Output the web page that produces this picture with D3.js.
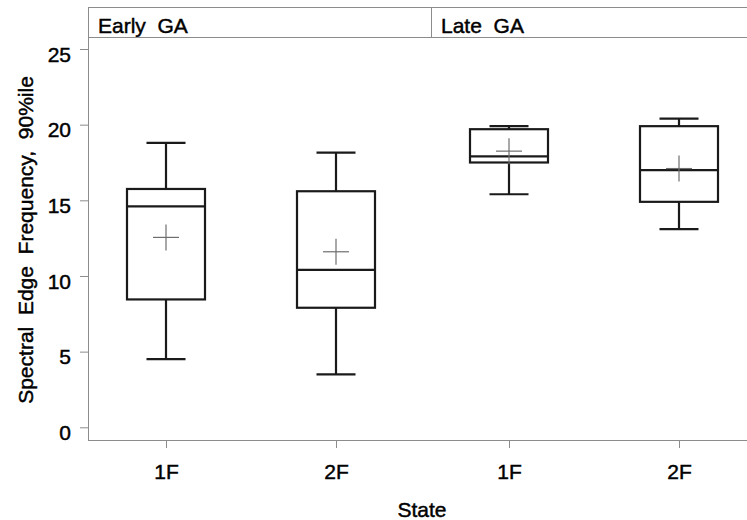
<!DOCTYPE html>
<html>
<head>
<meta charset="utf-8">
<script src="https://cdn.jsdelivr.net/npm/d3@7"></script>
<style>
  html, body { margin: 0; padding: 0; background: #fff; }
  svg text { font-family: "Liberation Sans", Arial, sans-serif; fill: #000; stroke: #000; stroke-width: 0.45px; white-space: pre; }
</style>
</head>
<body>
<div id="chartContainer"></div>
<script>
const panels = ["Early  GA", "Late  GA"];
const states = ["1F", "2F"];
// per panel, per state: [lowWhisker, q1, median, q3, highWhisker, mean]
const earlyStats = [
  [4.5, 8.45, 14.6, 15.75, 18.8, 12.55],
  [3.5, 7.9, 10.4, 15.6, 18.15, 11.6]
];
const lateStats = [
  [15.4, 17.5, 17.9, 19.7, 19.9, 18.25],
  [13.1, 14.9, 17.0, 19.9, 20.4, 17.1]
];
const yTicks = [0, 5, 10, 15, 20, 25];

document.addEventListener('DOMContentLoaded', () => {
  const width = 747, height = 520;
  const frameLeft = 88, frameTop = 7, headerBottom = 37, axisY = 440;
  const panelW = 343;

  const svg = d3.select("#chartContainer")
    .append("svg")
    .attr("width", width)
    .attr("height", height);

  const y = d3.scaleLinear().domain([0, 25]).range([427.3, 49]);
  const xPanel = d3.scalePoint().domain(states).range([78, 248]);
  const frameColor = "#8c8c8c";
  const boxW = 78, capW = 39, crossW = 26;

  const data = [earlyStats, lateStats];

  panels.forEach((name, pi) => {
    const left = frameLeft + pi * panelW;
    const g = svg.append("g").attr("transform", `translate(${left},0)`);

    // header label
    g.append("text")
      .attr("x", 10)
      .attr("y", 33)
      .style("font-size", "21px")
      .text(name);

    // header divider
    if (pi > 0) {
      g.append("line")
        .attr("x1", 0.5).attr("x2", 0.5)
        .attr("y1", frameTop).attr("y2", headerBottom)
        .attr("stroke", frameColor).attr("stroke-width", 1);
    }

    // x axis
    const xa = g.append("g")
      .attr("transform", `translate(0,${axisY})`)
      .call(d3.axisBottom(xPanel).tickSize(8).tickPadding(16));
    xa.select(".domain").remove();
    xa.selectAll(".tick line").attr("stroke", frameColor);
    xa.selectAll(".tick text")
      .style("font-size", "21px")
      .attr("fill", "#000");

    // boxes
    data[pi].forEach((s, si) => {
      const [lo, q1, med, q3, hi, mean] = s;
      const cx = xPanel(states[si]);
      const bg = g.append("g")
        .attr("stroke", "#1a1a1a")
        .attr("stroke-width", 2.2)
        .attr("fill", "none");

      bg.append("line")
        .attr("x1", cx).attr("x2", cx)
        .attr("y1", y(hi)).attr("y2", y(q3));
      bg.append("line")
        .attr("x1", cx).attr("x2", cx)
        .attr("y1", y(q1)).attr("y2", y(lo));
      bg.append("line")
        .attr("x1", cx - capW / 2).attr("x2", cx + capW / 2)
        .attr("y1", y(hi)).attr("y2", y(hi));
      bg.append("line")
        .attr("x1", cx - capW / 2).attr("x2", cx + capW / 2)
        .attr("y1", y(lo)).attr("y2", y(lo));
      bg.append("rect")
        .attr("x", cx - boxW / 2)
        .attr("y", y(q3))
        .attr("width", boxW)
        .attr("height", y(q1) - y(q3));
      bg.append("line")
        .attr("x1", cx - boxW / 2).attr("x2", cx + boxW / 2)
        .attr("y1", y(med)).attr("y2", y(med));

      // mean marker
      const mg = g.append("g").attr("stroke", "#6e6e6e").attr("stroke-width", 1.2);
      mg.append("line")
        .attr("x1", cx - crossW / 2).attr("x2", cx + crossW / 2)
        .attr("y1", y(mean)).attr("y2", y(mean));
      mg.append("line")
        .attr("x1", cx).attr("x2", cx)
        .attr("y1", y(mean) - crossW / 2).attr("y2", y(mean) + crossW / 2);
    });
  });

  // frame lines
  const frame = svg.append("g").attr("stroke", frameColor).attr("stroke-width", 1);
  frame.append("line")
    .attr("x1", frameLeft + 0.5).attr("x2", frameLeft + 0.5)
    .attr("y1", frameTop).attr("y2", axisY);
  frame.append("line")
    .attr("x1", frameLeft).attr("x2", width)
    .attr("y1", frameTop + 0.5).attr("y2", frameTop + 0.5);
  frame.append("line")
    .attr("x1", frameLeft).attr("x2", width)
    .attr("y1", headerBottom + 0.5).attr("y2", headerBottom + 0.5);
  frame.append("line")
    .attr("x1", frameLeft).attr("x2", width)
    .attr("y1", axisY + 0.5).attr("y2", axisY + 0.5);

  // y axis
  const ya = svg.append("g")
    .attr("transform", `translate(${frameLeft},0)`)
    .call(d3.axisLeft(y).tickValues(yTicks).tickSize(8).tickPadding(9));
  ya.select(".domain").remove();
  ya.selectAll(".tick line").attr("stroke", frameColor);
  ya.selectAll(".tick text")
    .style("font-size", "21px")
    .attr("fill", "#000")
    .attr("dy", "0.58em");

  // axis titles
  svg.append("text")
    .attr("transform", "translate(33,240) rotate(-90)")
    .attr("text-anchor", "middle")
    .style("font-size", "21px")
    .text("Spectral  Edge  Frequency,  90%ile");

  svg.append("text")
    .attr("x", 422)
    .attr("y", 517)
    .attr("text-anchor", "middle")
    .style("font-size", "21px")
    .text("State");
});
</script>
</body>
</html>
